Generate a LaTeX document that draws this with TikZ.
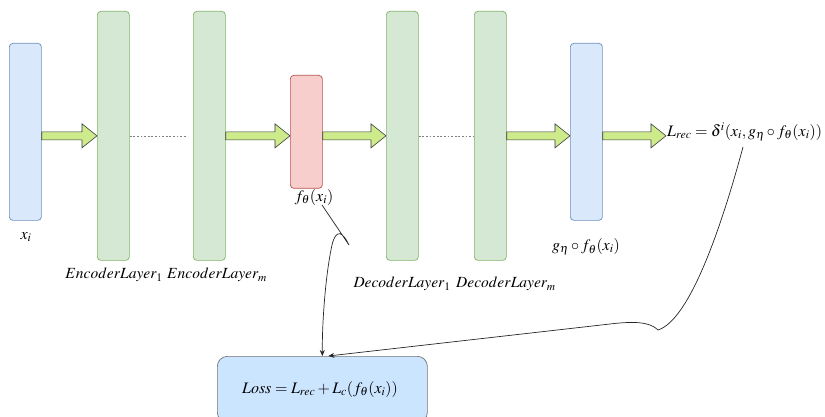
\documentclass[tikz,border=0pt]{standalone}
\usepackage{mathptmx}
\usetikzlibrary{calc,arrows.meta}
\definecolor{bluefill}{HTML}{DAE8FC}
\definecolor{bluedraw}{HTML}{6C8EBF}
\definecolor{greenfill}{HTML}{D5E8D4}
\definecolor{greendraw}{HTML}{82B366}
\definecolor{redfill}{HTML}{F8CECC}
\definecolor{reddraw}{HTML}{B85450}
\definecolor{arrowfill}{HTML}{CDEB8B}
\definecolor{arrowdraw}{HTML}{36393D}
\definecolor{lossfill}{HTML}{CCE5FF}
\tikzset{
  layer/.style={draw, rounded corners=3.5pt, line width=0.7pt, minimum width=32pt,
    inner sep=0pt, anchor=north west},
  bluebox/.style={layer, fill=bluefill, draw=bluedraw, minimum height=177pt},
  greenbox/.style={layer, fill=greenfill, draw=greendraw, minimum height=249pt},
  redbox/.style={layer, fill=redfill, draw=reddraw, minimum height=113pt},
  lossbox/.style={draw=arrowdraw!70, fill=lossfill, rounded corners=10pt, line width=0.7pt,
    minimum width=210pt, minimum height=66pt, anchor=north west, inner sep=0pt},
  lbl/.style={inner sep=0pt, font=\fontsize{16}{18}\selectfont},
  lyr/.style={inner sep=0pt, font=\fontsize{15.5}{18}\selectfont},
  fat/.style={draw=arrowdraw, fill=arrowfill, line width=0.6pt, line join=miter},
  dots/.style={draw=gray, line width=0.6pt, dash pattern=on 1.8pt off 1.8pt},
  link/.style={draw=black!85, line width=0.7pt, -{Stealth[length=6pt,width=5pt]}}
}
\newcommand\fatarrow[2]{%
  \path[fat] let \p1=(#1.east), \p2=(#2.west), \p3=(enc1.center) in
    (\x1,{\y3+4pt}) -- ({\x2-15pt},{\y3+4pt}) -- ({\x2-15pt},{\y3+12pt}) -- (\x2,\y3)
    -- ({\x2-15pt},{\y3-12pt}) -- ({\x2-15pt},{\y3-4pt}) -- (\x1,{\y3-4pt}) -- cycle;}
\begin{document}
\begin{tikzpicture}[x=1pt,y=-1pt]
\useasboundingbox (0,0) rectangle (825,417);
\node[bluebox] (xi) at (9,43) {};
\node[greenbox] (enc1) at (97,11) {};
\node[greenbox] (encm) at (193,11) {};
\node[redbox] (fx) at (290,75) {};
\node[greenbox] (dec1) at (386,11) {};
\node[greenbox] (decm) at (474,11) {};
\node[bluebox] (gx) at (570,43) {};
\node[lbl, anchor=west, inner xsep=1pt] (lrec) at (666,132) {$L_{rec}=\delta^i(x_i,g_\eta\circ f_\theta(x_i))$};
\node[lossbox] (loss) at (217,356) {};
\node[lbl] (losst) at (320,389) {$Loss=L_{rec}+L_c(f_\theta(x_i))$};

\node[lbl] (xil) at (26,237) {$x_i$};
\node[lbl] (fl) at (314,197) {$f_\theta(x_i)$};
\node[lbl] (gl) at (586,247) {$g_\eta\circ f_\theta(x_i)$};
\node[lyr] (enc1l) at (114,275) {$EncoderLayer_1$};
\node[lyr] (encml) at (217,275) {$EncoderLayer_m$};
\node[lyr] (dec1l) at (402,284) {$DecoderLayer_1$};
\node[lyr] (decml) at (506,284) {$DecoderLayer_m$};

\fatarrow{xi}{enc1}
\fatarrow{encm}{fx}
\fatarrow{fx}{dec1}
\fatarrow{decm}{gx}
\fatarrow{gx}{lrec}

\draw[dots] (enc1.east |- enc1.center) -- ($(encm.west |- encm.center)+(-7,0)$);
\draw[dots] (dec1.east |- dec1.center) -- (decm.west |- decm.center);

\coordinate (s1) at (322,205);
\coordinate (s2) at (743,147);
\draw[link] (s1) -- (349,245) .. controls (343,232) and (336,228) .. (332,245)
  .. controls (326,272) and (322,320) .. (loss.north);
\draw[link] (s2) .. controls (722,225) and (690,320) .. (658,330)
  .. controls (650,322) and (635,321) .. (610,324) -- ($(loss.north)+(6,0)$);
\end{tikzpicture}
\end{document}
